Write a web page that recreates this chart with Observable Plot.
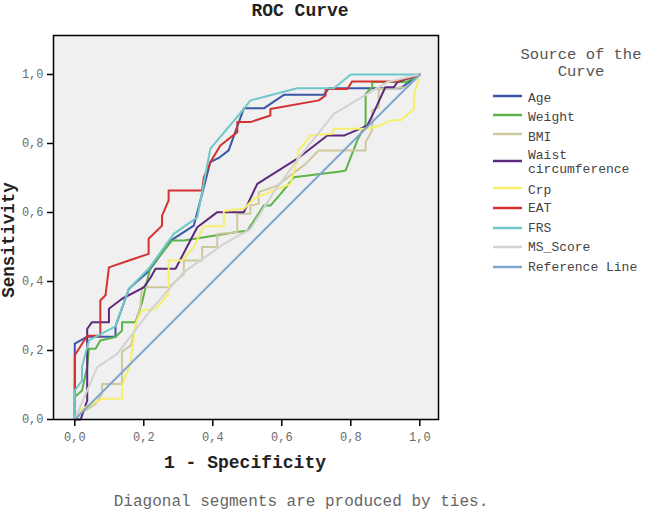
<!DOCTYPE html>
<html>
<head>
<meta charset="utf-8">
<script src="https://cdn.jsdelivr.net/npm/d3@7"></script>
<script src="https://cdn.jsdelivr.net/npm/@observablehq/plot@0.6"></script>
<style>
  html, body { margin: 0; padding: 0; background: #fff; }
  #chart { width: 646px; height: 513px; }
</style>
</head>
<body>
<div id="chart"></div>
<script>
// ---- Data ----
const seriesNames = ["Age", "Weight", "BMI", "Waist circumference", "Crp", "EAT", "FRS", "MS_Score", "Reference Line"];
const seriesColors = ["#3b56a8", "#5cb347", "#cdc99d", "#5c2a7d", "#f5ef6a", "#d43131", "#6fc7c7", "#d2d2d2", "#7fa6d0"];

const ageX = [0, 0, 0.036, 0.118, 0.118, 0.157, 0.214, 0.28, 0.345, 0.393, 0.42, 0.446, 0.49, 0.548, 0.606, 0.722, 0.736, 0.944, 1];
const ageY = [0, 0.22, 0.24, 0.24, 0.27, 0.379, 0.43, 0.52, 0.562, 0.746, 0.76, 0.78, 0.902, 0.902, 0.941, 0.941, 0.96, 0.96, 1];

const weightX = [0, 0, 0.021, 0.036, 0.041, 0.06, 0.074, 0.118, 0.137, 0.137, 0.176, 0.195, 0.219, 0.282, 0.316, 0.466, 0.5, 0.548, 0.567, 0.601, 0.635, 0.77, 0.785, 0.819, 0.843, 0.843, 0.862, 0.862, 0.96, 1];
const weightY = [0, 0.065, 0.084, 0.152, 0.205, 0.205, 0.229, 0.239, 0.258, 0.282, 0.282, 0.34, 0.441, 0.519, 0.519, 0.543, 0.547, 0.62, 0.62, 0.659, 0.702, 0.719, 0.722, 0.809, 0.857, 0.944, 0.963, 0.978, 0.978, 1];

const bmiX = [0, 0.021, 0.06, 0.079, 0.079, 0.137, 0.137, 0.163, 0.19, 0.195, 0.272, 0.316, 0.316, 0.369, 0.369, 0.413, 0.413, 0.471, 0.471, 0.509, 0.509, 0.533, 0.533, 0.587, 0.669, 0.707, 0.843, 0.843, 0.862, 0.862, 0.881, 0.881, 0.963, 1];
const bmiY = [0, 0.02, 0.045, 0.074, 0.103, 0.103, 0.197, 0.215, 0.33, 0.383, 0.383, 0.422, 0.461, 0.461, 0.5, 0.5, 0.538, 0.543, 0.596, 0.596, 0.62, 0.625, 0.659, 0.678, 0.741, 0.78, 0.78, 0.804, 0.838, 0.896, 0.905, 0.958, 0.963, 1];

const waistX = [0, 0.017, 0.036, 0.036, 0.05, 0.099, 0.099, 0.137, 0.2, 0.219, 0.234, 0.292, 0.355, 0.413, 0.49, 0.529, 0.645, 0.732, 0.78, 0.848, 0.867, 0.90, 0.925, 0.935, 1];
const waistY = [0, 0, 0.055, 0.263, 0.282, 0.282, 0.321, 0.35, 0.383, 0.41, 0.437, 0.437, 0.557, 0.601, 0.601, 0.683, 0.756, 0.823, 0.823, 0.852, 0.891, 0.963, 0.963, 0.978, 1];

const crpX = [0, 0.021, 0.079, 0.137, 0.137, 0.161, 0.176, 0.195, 0.234, 0.272, 0.272, 0.311, 0.345, 0.374, 0.432, 0.432, 0.49, 0.519, 0.577, 0.625, 0.645, 0.649, 0.683, 0.746, 0.751, 0.848, 0.886, 0.915, 0.944, 0.983, 0.983, 1];
const crpY = [0, 0.031, 0.06, 0.06, 0.099, 0.161, 0.277, 0.316, 0.32, 0.364, 0.461, 0.461, 0.5, 0.56, 0.56, 0.604, 0.611, 0.64, 0.664, 0.683, 0.751, 0.78, 0.823, 0.828, 0.843, 0.843, 0.852, 0.867, 0.867, 0.90, 0.939, 1];

const eatX = [0, 0, 0.036, 0.074, 0.074, 0.089, 0.099, 0.157, 0.214, 0.214, 0.253, 0.253, 0.272, 0.272, 0.369, 0.374, 0.393, 0.422, 0.471, 0.471, 0.509, 0.567, 0.567, 0.707, 0.727, 0.727, 0.79, 0.804, 0.935, 1];
const eatY = [0, 0.186, 0.243, 0.243, 0.345, 0.36, 0.441, 0.461, 0.48, 0.524, 0.562, 0.591, 0.635, 0.664, 0.664, 0.702, 0.746, 0.794, 0.833, 0.862, 0.862, 0.881, 0.90, 0.925, 0.939, 0.958, 0.958, 0.98, 0.98, 1];

const frsX = [0, 0, 0.021, 0.021, 0.041, 0.118, 0.157, 0.214, 0.287, 0.355, 0.393, 0.49, 0.509, 0.645, 0.751, 0.80, 1];
const frsY = [0, 0.084, 0.113, 0.152, 0.229, 0.27, 0.379, 0.437, 0.538, 0.586, 0.785, 0.90, 0.925, 0.96, 0.96, 1, 1];

const msX = [0, 0.065, 0.123, 0.219, 0.316, 0.432, 0.509, 0.577, 0.654, 0.751, 0.848, 0.906, 1];
const msY = [0, 0.152, 0.19, 0.316, 0.427, 0.509, 0.552, 0.659, 0.765, 0.886, 0.944, 0.978, 1];

const refX = [0, 1];
const refY = [0, 1];

const xTicks = [0, 0.2, 0.4, 0.6, 0.8, 1.0];
const yTicks = [0, 0.2, 0.4, 0.6, 0.8, 1.0];

// ---- Build table ----
const seriesXY = [
  [ageX, ageY], [weightX, weightY], [bmiX, bmiY], [waistX, waistY], [crpX, crpY],
  [eatX, eatY], [frsX, frsY], [msX, msY], [refX, refY]
];
const rows = [];
seriesXY.forEach(([xs, ys], i) => {
  xs.forEach((x, j) => rows.push({series: seriesNames[i], x, y: ys[j]}));
});

const fmt = d => d.toFixed(1).replace(".", ",");
const mono = "'Liberation Mono', 'DejaVu Sans Mono', monospace";

const chart = Plot.plot({
  width: 646,
  height: 513,
  marginLeft: 53,
  marginRight: 208,
  marginTop: 35,
  marginBottom: 94,
  x: {domain: [-0.0617, 1.0542]},
  y: {domain: [0, 1.113]},
  color: {domain: seriesNames, range: seriesColors},
  style: {fontFamily: mono, background: "#fff", overflow: "visible"},
  marks: [
    Plot.frame({fill: "#f0f0f0"}),
    Plot.line(rows, {x: "x", y: "y", z: "series", stroke: "series", strokeWidth: 2}),
    Plot.frame({stroke: "#000", strokeWidth: 1.5}),
    Plot.axisX({ticks: xTicks, tickSize: 7, tickPadding: 6, tickFormat: fmt, fontSize: 12, fill: "#6a6a6a", stroke: "#000", strokeWidth: 1.5, label: null}),
    Plot.axisY({ticks: yTicks, tickSize: 6, tickPadding: 4, tickFormat: fmt, fontSize: 12, fill: "#6a6a6a", stroke: "#000", strokeWidth: 1.5, label: null})
  ]
});
document.getElementById("chart").appendChild(chart);

// ---- Titles, caption, legend ----
const svg = d3.select(chart);
svg.append("text").attr("x", 300).attr("y", 16).attr("text-anchor", "middle")
  .attr("font-family", mono).attr("font-weight", "bold").attr("font-size", 18).attr("fill", "#222")
  .text("ROC Curve");
svg.append("text").attr("x", 245).attr("y", 468).attr("text-anchor", "middle")
  .attr("font-family", mono).attr("font-weight", "bold").attr("font-size", 18).attr("fill", "#222")
  .text("1 - Specificity");
svg.append("text").attr("transform", "translate(14,240) rotate(-90)").attr("text-anchor", "middle")
  .attr("font-family", mono).attr("font-weight", "bold").attr("font-size", 17.5).attr("fill", "#222")
  .text("Sensitivity");
svg.append("text").attr("x", 301).attr("y", 506).attr("text-anchor", "middle")
  .attr("font-family", mono).attr("font-size", 16).attr("fill", "#666")
  .text("Diagonal segments are produced by ties.");

const lg = svg.append("g").attr("font-family", mono);
lg.append("text").attr("x", 581).attr("y", 59).attr("text-anchor", "middle").attr("font-size", 15.5).attr("fill", "#555").text("Source of the");
lg.append("text").attr("x", 581).attr("y", 76).attr("text-anchor", "middle").attr("font-size", 15.5).attr("fill", "#555").text("Curve");

const legendItems = [
  {lines: ["Age"], y: 98, sw: 96},
  {lines: ["Weight"], y: 117, sw: 115},
  {lines: ["BMI"], y: 137, sw: 134},
  {lines: ["Waist", "circumference"], y: 155, sw: 161},
  {lines: ["Crp"], y: 190, sw: 188},
  {lines: ["EAT"], y: 208, sw: 208},
  {lines: ["FRS"], y: 228, sw: 228},
  {lines: ["MS_Score"], y: 247, sw: 247},
  {lines: ["Reference Line"], y: 267, sw: 267}
];
legendItems.forEach((it, i) => {
  lg.append("line").attr("x1", 493).attr("x2", 522).attr("y1", it.sw).attr("y2", it.sw)
    .attr("stroke", seriesColors[i]).attr("stroke-width", 2.5);
  it.lines.forEach((t, k) => {
    lg.append("text").attr("x", 528).attr("y", it.y + 4 + k * 14).attr("text-anchor", "start")
      .attr("font-size", 13).attr("fill", "#444").text(t);
  });
});
</script>
</body>
</html>
